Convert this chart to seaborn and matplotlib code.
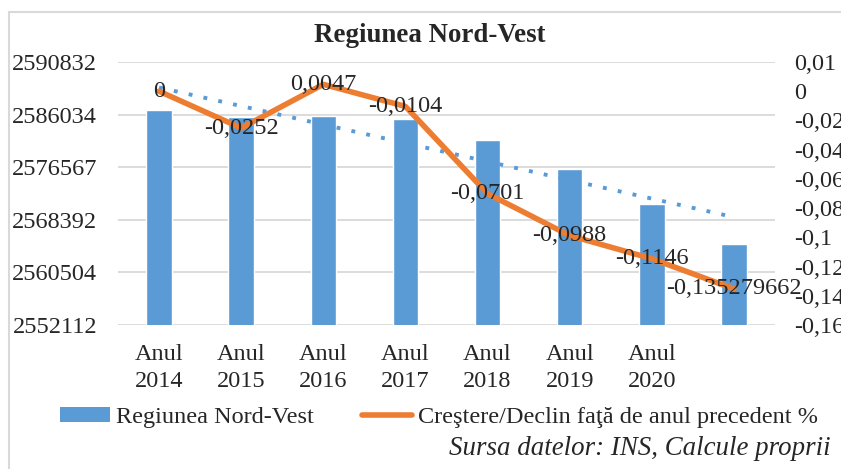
import numpy as np
import pandas as pd
import seaborn as sns
import matplotlib.pyplot as plt
from matplotlib.lines import Line2D
from matplotlib.patches import Patch

# data
years = [2014, 2015, 2016, 2017, 2018, 2019, 2020, 2021]
x_labels = ['Anul\n2014', 'Anul\n2015', 'Anul\n2016', 'Anul\n2017',
            'Anul\n2018', 'Anul\n2019', 'Anul\n2020', '']
population = [2583762, 2582777, 2582922, 2582436, 2579347, 2575076, 2569924, 2564036]
growth = [0, -0.0252, 0.0047, -0.0104, -0.0701, -0.0988, -0.1146, -0.135279662]
growth_labels = ['0', '-0,0252', '0,0047', '-0,0104', '-0,0701', '-0,0988', '-0,1146', '-0,135279662']

left_tick_labels = ['2552112', '2560504', '2568392', '2576567', '2586034', '2590832']
right_ticks = [-0.16, -0.14, -0.12, -0.10, -0.08, -0.06, -0.04, -0.02, 0.0, 0.02]
right_tick_labels = ['-0,16', '-0,14', '-0,12', '-0,1', '-0,08', '-0,06', '-0,04', '-0,02', '0', '0,01']

bar_color = '#5B9BD5'
line_color = '#ED7D31'
grid_color = '#D9D9D9'

sns.set_style("white")
plt.rcParams['font.family'] = ['Liberation Serif', 'DejaVu Serif']
fs = 17.5

fig = plt.figure(figsize=(8.41, 4.69), dpi=100)
ax1 = fig.add_axes([0.1403, 0.307, 0.7812, 0.5608])

df = pd.DataFrame({'year': years, 'pop': population, 'pos': np.arange(len(years))})

sns.barplot(data=df, x='year', y='pop', color=bar_color, width=0.31,
            saturation=1, ax=ax1, zorder=2)

# linear trend of the bar series (round dots)
sns.regplot(data=df, x='pos', y='pop', ax=ax1, scatter=False, ci=None, truncate=True,
            line_kws=dict(color=bar_color, lw=2.8, ls=(0, (1, 2.9)),
                          dash_capstyle='butt', zorder=3))

lo, hi = 2552112, 2590832
ax1.set_ylim(lo, hi)
ax1.set_xlim(-0.5, len(years) - 0.5)
ax1.set_yticks(np.linspace(lo, hi, len(left_tick_labels)))
ax1.set_yticklabels(left_tick_labels, fontsize=fs)
ax1.set_xticks(np.arange(len(years)))
ax1.set_xticklabels(x_labels, fontsize=fs, linespacing=1.32)
ax1.tick_params(axis='both', length=0)
ax1.tick_params(axis='y', pad=15)
ax1.tick_params(axis='x', pad=14)
ax1.grid(axis='y', color=grid_color, lw=1.3, zorder=0)
ax1.set_axisbelow(True)
ax1.set_xlabel('')
ax1.set_ylabel('')
for s in ax1.spines.values():
    s.set_visible(False)

ax2 = ax1.twinx()
sns.lineplot(data=df.assign(g=growth), x='pos', y='g', ax=ax2, color=line_color,
             lw=4.0, solid_capstyle='round', solid_joinstyle='round', zorder=4)
ax2.set_ylim(-0.16, 0.02)
ax2.set_yticks(right_ticks)
ax2.set_yticklabels(right_tick_labels, fontsize=fs)
ax2.tick_params(axis='y', length=0, pad=14)
ax2.set_ylabel('')
ax2.set_xlabel('')
for s in ax2.spines.values():
    s.set_visible(False)

for xi, yi, lab in zip(df['pos'], growth, growth_labels):
    ax2.text(xi, yi, lab, ha='center', va='center', fontsize=fs, zorder=5)

fig.text(0.511, 0.925, 'Regiunea Nord-Vest', ha='center', va='center',
         fontsize=19.4, fontweight='bold')

handles = [Patch(facecolor=bar_color, edgecolor='none'),
           Line2D([0], [0], color=line_color, lw=4.0)]
fig.legend(handles, ['Regiunea Nord-Vest', 'Creştere/Declin faţă de anul precedent %'],
           loc='center left', bbox_to_anchor=(0.071, 0.11), ncol=2, frameon=False,
           fontsize=fs, handlelength=2.05, handleheight=0.55, handletextpad=0.25,
           columnspacing=2.0, borderpad=0, borderaxespad=0)

fig.text(0.988, 0.043, 'Sursa datelor: INS, Calcule proprii', ha='right', va='center',
         fontsize=19.4, style='italic')

# chart area border (top and left visible)
fig.add_artist(Line2D([0.0107, 0.0107], [0, 0.974], color=grid_color, lw=1.5))
fig.add_artist(Line2D([0.0107, 1.0], [0.974, 0.974], color=grid_color, lw=1.5))

fig.savefig('out.png', dpi=100)
